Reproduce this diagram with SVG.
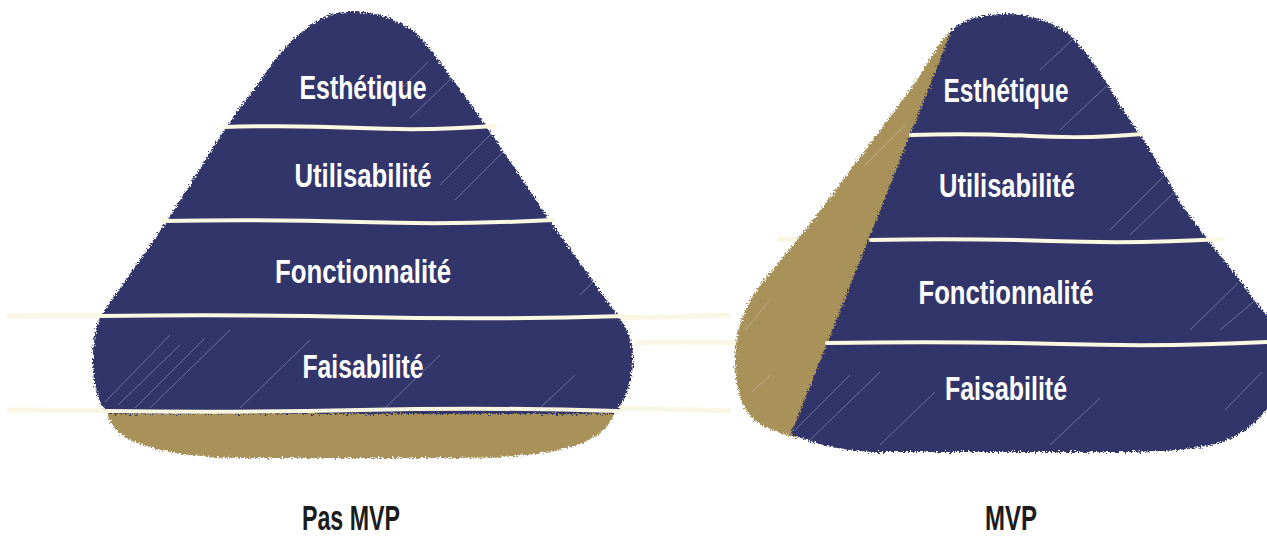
<svg xmlns="http://www.w3.org/2000/svg" width="1267" height="539" viewBox="0 0 1267 539">
<style>
.navy{fill:#30366a}
.gold{fill:#a8925a}
.div{fill:none;stroke:#fbf8e2;stroke-width:4;stroke-linecap:round}
.faint{fill:none;stroke:#f6f4d8;stroke-width:5;opacity:0.7}
.hatch{stroke:#d8daea;stroke-width:0.8;opacity:0.45}
.lbl{font-family:"Liberation Sans Narrow","Liberation Sans",Arial,sans-serif;font-size:34px;font-weight:bold;fill:#ffffff;text-anchor:middle}
.cap{font-family:"Liberation Sans Narrow","Liberation Sans",Arial,sans-serif;font-size:35px;font-weight:bold;fill:#1c1c1c;text-anchor:middle}
</style>
<defs>
<filter id="rough" x="-5%" y="-5%" width="110%" height="110%">
<feTurbulence type="fractalNoise" baseFrequency="0.6" numOctaves="2" seed="3" result="n"/>
<feDisplacementMap in="SourceGraphic" in2="n" scale="7" xChannelSelector="R" yChannelSelector="G"/>
</filter>
</defs>
<rect width="1267" height="539" fill="#ffffff"/>

<g id="background-lines">
<path class="faint" d="M7 316 Q200 314 400 317 T730 315"/>
<path class="faint" d="M7 410 Q200 412 400 409 T730 411"/>
<path class="faint" d="M635 343 Q690 341 735 343"/>
<path class="faint" d="M778 239 Q830 240 873 239"/>
</g>

<g id="pyramid-pas-mvp">
<g filter="url(#rough)">
<path class="gold" d="M106 408 L616 408 C612 425 600 435 585 442 C560 452 520 458 460 458 L250 458 C190 458 150 450 130 440 C115 432 108 422 106 408 Z"/>
<path class="navy" d="M355 12 C375 12 395 18 415 32 C425 42 432 52 440 62 L487 127 L550 221 L612 308 C626 324 634 342 633 362 C632 385 625 400 614 414 L108 414 C97 400 93 385 93 360 C93 340 96 325 102 314 L167 221 L226 127 L273 63 C290 40 310 22 330 15 C338 12 347 12 355 12 Z"/>
</g>
<g>
<line class="hatch" x1="105" y1="402" x2="170" y2="335"/>
<line class="hatch" x1="118" y1="405" x2="180" y2="345"/>
<line class="hatch" x1="135" y1="408" x2="205" y2="338"/>
<line class="hatch" x1="150" y1="408" x2="230" y2="330"/>
<line class="hatch" x1="240" y1="408" x2="310" y2="340"/>
<line class="hatch" x1="385" y1="408" x2="440" y2="355"/>
<line class="hatch" x1="540" y1="408" x2="575" y2="375"/>
<line class="hatch" x1="580" y1="295" x2="602" y2="273"/>
<line class="hatch" x1="440" y1="185" x2="500" y2="125"/>
<line class="hatch" x1="455" y1="200" x2="512" y2="143"/>
<line class="hatch" x1="410" y1="118" x2="455" y2="75"/>
<line class="hatch" x1="400" y1="90" x2="428" y2="62"/>
</g>
<g id="pas-mvp-esthetique"><text class="lbl" x="363" y="99" textLength="127" lengthAdjust="spacingAndGlyphs">Esthétique</text></g>
<g id="pas-mvp-utilisabilite"><text class="lbl" x="363" y="187" textLength="137" lengthAdjust="spacingAndGlyphs">Utilisabilité</text></g>
<g id="pas-mvp-fonctionnalite"><text class="lbl" x="363" y="283" textLength="176" lengthAdjust="spacingAndGlyphs">Fonctionnalité</text></g>
<g id="pas-mvp-faisabilite"><text class="lbl" x="363" y="378" textLength="121" lengthAdjust="spacingAndGlyphs">Faisabilité</text></g>
</g>

<g id="pyramid-mvp">
<g filter="url(#rough)">
<path class="gold" d="M958 30 L797 438 C775 432 760 426 752 418 C740 405 735 385 735 360 C735 335 742 310 760 285 L815 218 L860 157 L915 83 C930 60 940 40 952 30 Z"/>
<path class="navy" d="M952 30 C965 18 985 14 1005 14 C1030 14 1055 22 1070 35 C1090 55 1105 80 1120 105 L1150 150 L1183 207 L1212 245 L1240 280 L1262 310 L1270 318 L1270 405 C1255 425 1240 437 1215 444 C1190 450 1160 452 1120 452 L880 452 C850 452 815 445 791 434 Z"/>
</g>
<g>
<line class="hatch" x1="1040" y1="70" x2="1072" y2="40"/>
<line class="hatch" x1="1060" y1="130" x2="1115" y2="78"/>
<line class="hatch" x1="1110" y1="230" x2="1170" y2="170"/>
<line class="hatch" x1="1130" y1="235" x2="1185" y2="182"/>
<line class="hatch" x1="1190" y1="330" x2="1238" y2="283"/>
<line class="hatch" x1="1220" y1="330" x2="1258" y2="298"/>
<line class="hatch" x1="1225" y1="410" x2="1262" y2="372"/>
<line class="hatch" x1="795" y1="430" x2="850" y2="375"/>
<line class="hatch" x1="810" y1="440" x2="880" y2="372"/>
<line class="hatch" x1="880" y1="445" x2="935" y2="392"/>
<line class="hatch" x1="1050" y1="445" x2="1100" y2="398"/>
<line class="hatch" x1="865" y1="165" x2="905" y2="125"/>
<line class="hatch" x1="745" y1="330" x2="770" y2="300"/>
<line class="hatch" x1="752" y1="392" x2="770" y2="375"/>
</g>
<g id="mvp-esthetique"><text class="lbl" x="1006" y="102" textLength="125" lengthAdjust="spacingAndGlyphs">Esthétique</text></g>
<g id="mvp-utilisabilite"><text class="lbl" x="1007" y="197" textLength="136" lengthAdjust="spacingAndGlyphs">Utilisabilité</text></g>
<g id="mvp-fonctionnalite"><text class="lbl" x="1006" y="304" textLength="175" lengthAdjust="spacingAndGlyphs">Fonctionnalité</text></g>
<g id="mvp-faisabilite"><text class="lbl" x="1006" y="400" textLength="122" lengthAdjust="spacingAndGlyphs">Faisabilité</text></g>
</g>

<g id="dividers">
<path class="div" d="M224 127 Q290 125 360 128 T494 126"/>
<path class="div" d="M163 221 Q260 219 360 222 T553 220"/>
<path class="div" d="M100 316 Q230 314 360 317 T625 316"/>
<path class="div" d="M106 411 Q230 413 360 410 T617 411"/>
<path class="div" d="M911 135 Q970 133 1030 136 T1142 134"/>
<path class="div" d="M871 240 Q960 238 1050 241 T1222 239"/>
<path class="div" d="M827 343 Q950 341 1060 344 T1267 342"/>
</g>

<g id="caption-pas-mvp"><text class="cap" x="351" y="530" textLength="98" lengthAdjust="spacingAndGlyphs">Pas MVP</text></g>
<g id="caption-mvp"><text class="cap" x="1011" y="530" textLength="52" lengthAdjust="spacingAndGlyphs">MVP</text></g>
</svg>
